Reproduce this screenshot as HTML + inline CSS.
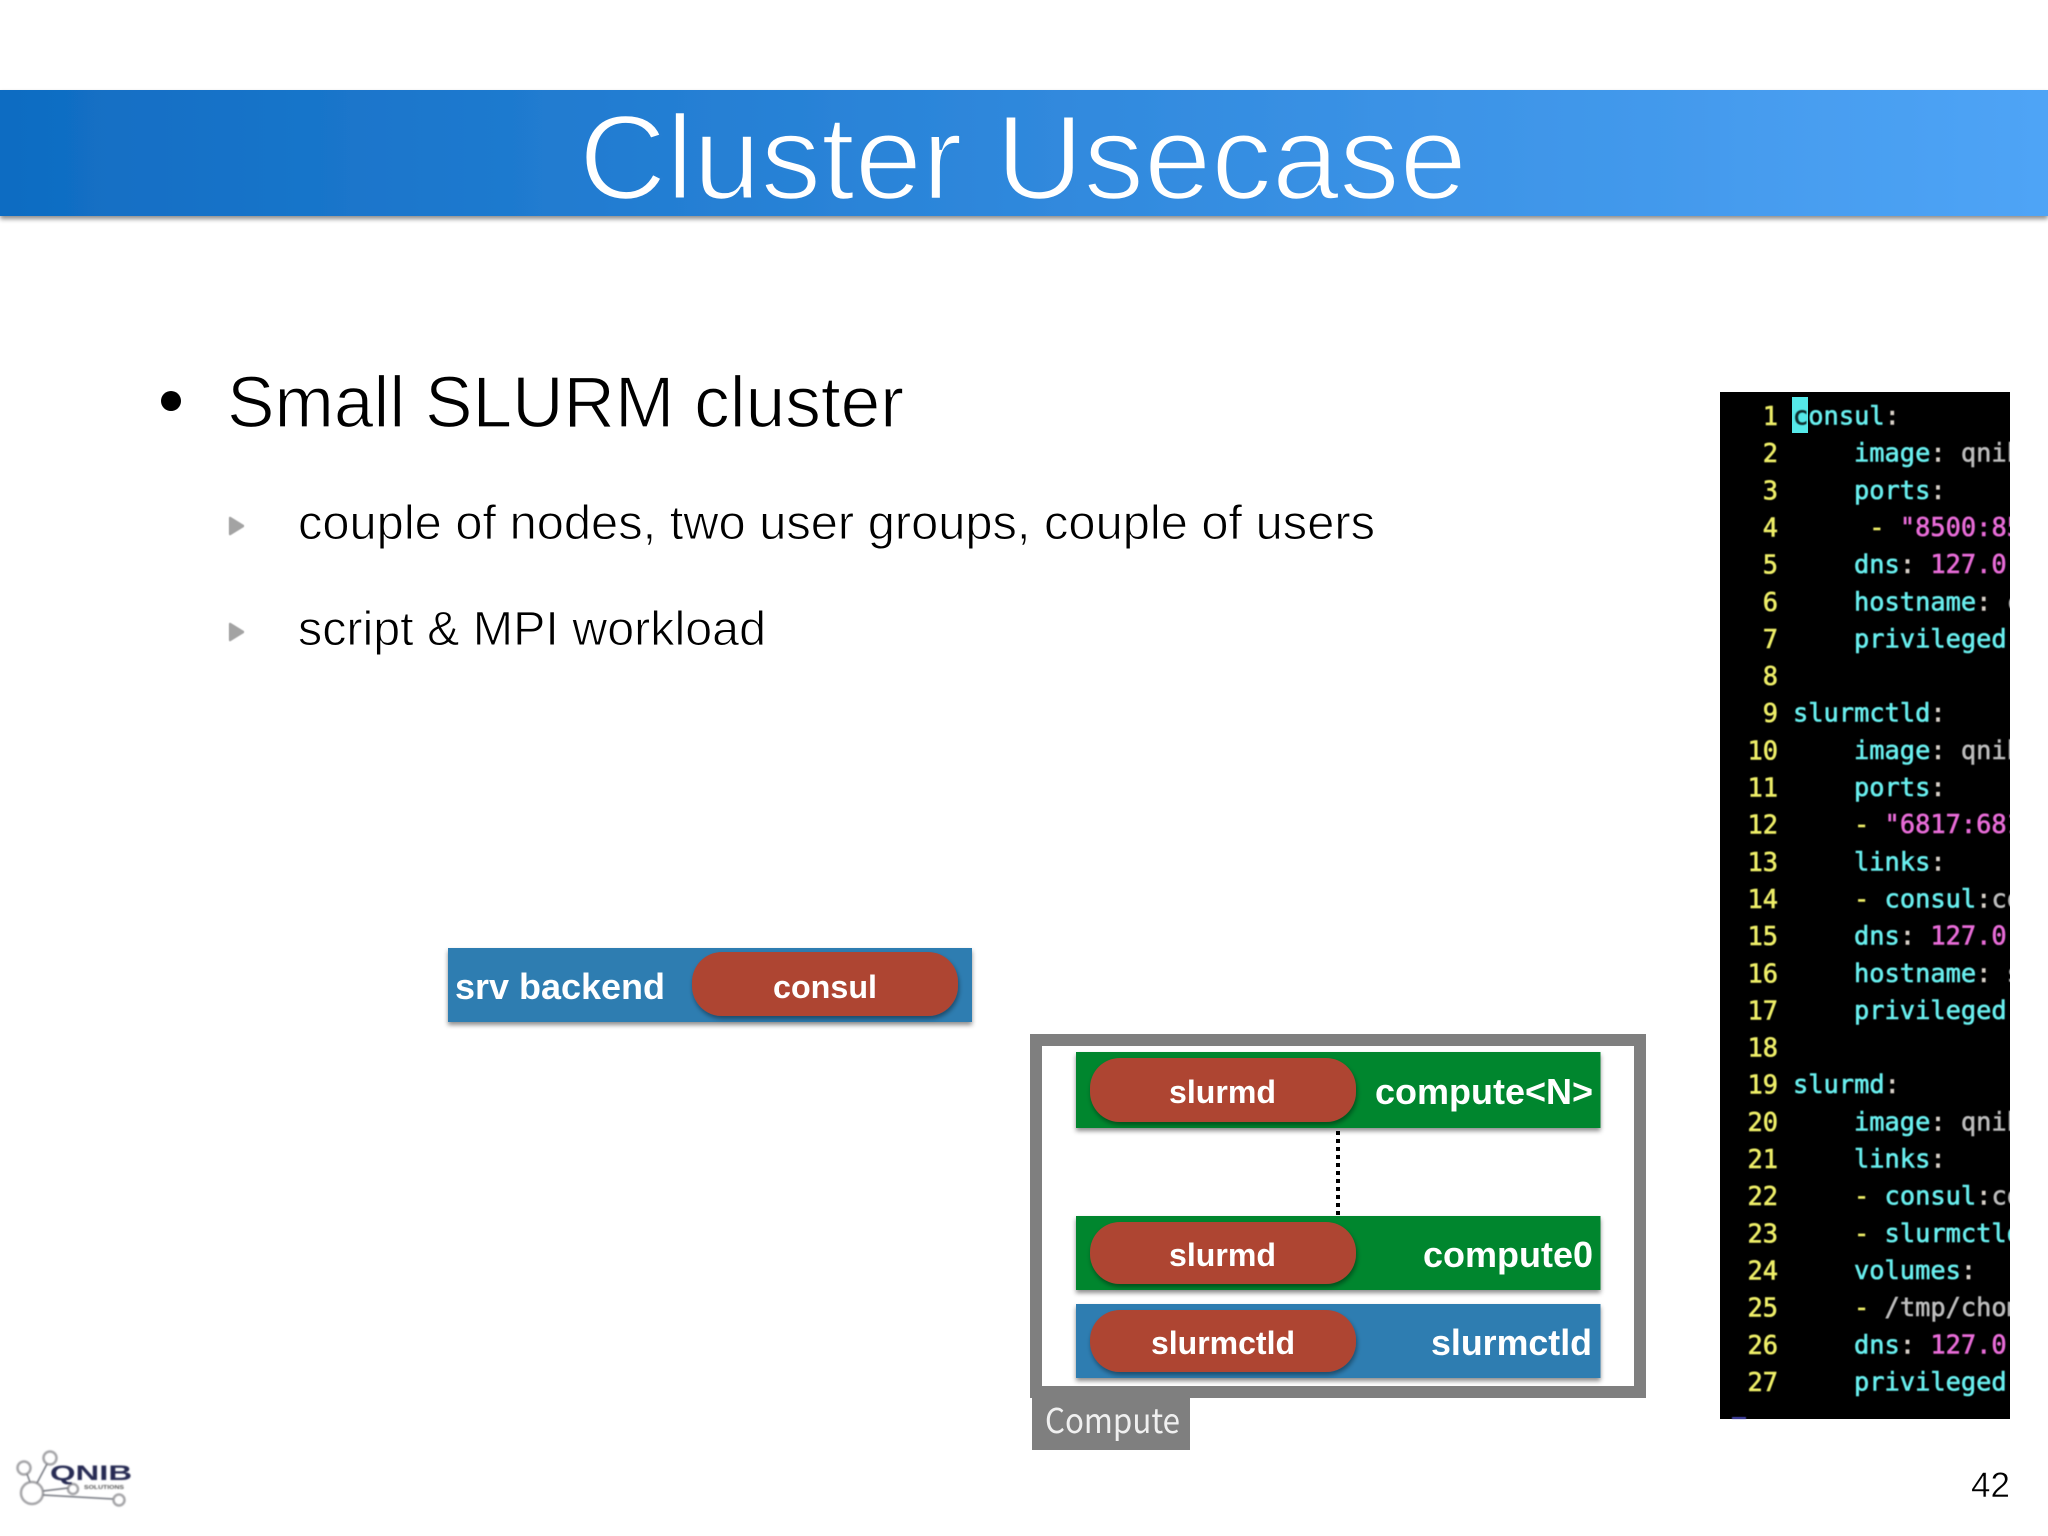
<!DOCTYPE html>
<html><head><meta charset="utf-8"><style>
html,body{margin:0;padding:0;background:#fff;width:2048px;height:1536px;overflow:hidden}
svg{display:block}
text{font-family:"Liberation Sans",sans-serif}
.b{font-weight:bold;fill:#fff}
.c text{font-family:"DejaVu Sans Mono","Liberation Mono",monospace;font-size:25.36px;white-space:pre;fill:#68eeee;stroke:#68eeee;stroke-width:.6}
.c.n text{fill:#eeee68;stroke:#eeee68}
.p{fill:#d8d0c8;stroke:#d8d0c8}.g{fill:#bcbcbc;stroke:#bcbcbc}.m{fill:#e86cd8;stroke:#e86cd8}.d{fill:#eeee68;stroke:#eeee68}
.k{fill:#0a2a2a;stroke:#0a2a2a}
</style></head><body>
<svg xmlns="http://www.w3.org/2000/svg" width="2048" height="1536" viewBox="0 0 2048 1536">
<defs>
<linearGradient id="hg" gradientUnits="userSpaceOnUse" x1="0" y1="0" x2="2048" y2="0"><stop offset="0" stop-color="#0f6cc2"/><stop offset="1" stop-color="#4fa4f6"/></linearGradient>
<filter id="s" x="-5%" y="-30%" width="110%" height="170%"><feDropShadow dx="0" dy="3" stdDeviation="2.5" flood-color="#000" flood-opacity=".45"/></filter>
<filter id="s2" x="-5%" y="-20%" width="110%" height="150%"><feDropShadow dx="1" dy="3" stdDeviation="2.5" flood-color="#000" flood-opacity=".4"/></filter>
<filter id="bl"><feGaussianBlur stdDeviation=".45"/></filter>
<filter id="bl2"><feGaussianBlur stdDeviation=".7"/></filter>
<clipPath id="cp"><rect x="1720" y="392" width="290" height="1027"/></clipPath>
</defs>

<rect x="0" y="90" width="2048" height="126" fill="url(#hg)" filter="url(#s)"/>
<text x="579" y="199" font-size="120" fill="#fff" stroke="url(#hg)" stroke-width="2.6" textLength="888" lengthAdjust="spacingAndGlyphs">Cluster Usecase</text>

<circle cx="171" cy="401" r="10" fill="#000"/>
<text x="227" y="427" font-size="72" fill="#000" stroke="#fff" stroke-width="1.3" textLength="677" lengthAdjust="spacingAndGlyphs">Small SLURM cluster</text>
<polygon points="230,518 243,526 230,534" fill="#a3a3a3" stroke="#a3a3a3" stroke-width="2.5" stroke-linejoin="round" filter="url(#bl)"/>
<text x="298" y="539" font-size="48" fill="#000" stroke="#fff" stroke-width=".9" textLength="1077" lengthAdjust="spacingAndGlyphs">couple of nodes, two user groups, couple of users</text>
<polygon points="230,624 243,632 230,640" fill="#a3a3a3" stroke="#a3a3a3" stroke-width="2.5" stroke-linejoin="round" filter="url(#bl)"/>
<text x="298" y="645" font-size="48" fill="#000" stroke="#fff" stroke-width=".9" textLength="468" lengthAdjust="spacingAndGlyphs">script &amp; MPI workload</text>

<!-- srv backend -->
<rect x="448" y="948" width="524" height="74" fill="#2e7db1" filter="url(#s)"/>
<rect x="692" y="952" width="266" height="64" rx="30" fill="#ae4431" filter="url(#s2)"/>
<text class="b" x="455" y="999" font-size="36" textLength="210" lengthAdjust="spacingAndGlyphs">srv backend</text>
<text class="b" x="773" y="998" font-size="32" textLength="104" lengthAdjust="spacingAndGlyphs">consul</text>

<!-- compute frame -->
<rect x="1036" y="1040" width="604" height="352" fill="#fff" stroke="#7f7f7f" stroke-width="12"/>
<rect x="1032" y="1398" width="158" height="52" fill="#7f7f7f"/>
<text x="1045" y="1433" font-size="34" fill="#f0f0f0" style="font-family:'Noto Sans CJK JP','Liberation Sans',sans-serif" textLength="135" lengthAdjust="spacingAndGlyphs">Compute</text>

<rect x="1076" y="1052" width="524.5" height="76" fill="#02862f" filter="url(#s)"/>
<rect x="1090" y="1058" width="266" height="64" rx="30" fill="#ae4431" filter="url(#s2)"/>
<text class="b" x="1169" y="1103" font-size="32" textLength="107" lengthAdjust="spacingAndGlyphs">slurmd</text>
<text class="b" x="1375" y="1104" font-size="36" textLength="218" lengthAdjust="spacingAndGlyphs">compute&lt;N&gt;</text>

<line x1="1338" y1="1131" x2="1338" y2="1216" stroke="#000" stroke-width="4" stroke-dasharray="4 4"/>

<rect x="1076" y="1216" width="524.5" height="74" fill="#02862f" filter="url(#s)"/>
<rect x="1090" y="1222" width="266" height="62" rx="30" fill="#ae4431" filter="url(#s2)"/>
<text class="b" x="1169" y="1266" font-size="32" textLength="107" lengthAdjust="spacingAndGlyphs">slurmd</text>
<text class="b" x="1423" y="1267" font-size="36" textLength="170" lengthAdjust="spacingAndGlyphs">compute0</text>

<rect x="1076" y="1304" width="524.5" height="74" fill="#2e7db1" filter="url(#s)"/>
<rect x="1090" y="1310" width="266" height="62" rx="30" fill="#ae4431" filter="url(#s2)"/>
<text class="b" x="1151" y="1354" font-size="32" textLength="144" lengthAdjust="spacingAndGlyphs">slurmctld</text>
<text class="b" x="1431" y="1355" font-size="36" textLength="161" lengthAdjust="spacingAndGlyphs">slurmctld</text>

<!-- code panel -->
<rect x="1720" y="392" width="290" height="1027" fill="#000"/>
<rect x="1732" y="1417" width="14" height="2" fill="#4a4ab8" filter="url(#bl)"/>
<rect x="1792" y="397" width="16" height="36" fill="#55e8e8"/>
<g clip-path="url(#cp)" filter="url(#bl)">
<g class="c n">
<text x="1778" y="425" text-anchor="end">1</text>
<text x="1778" y="462.15" text-anchor="end">2</text>
<text x="1778" y="499.3" text-anchor="end">3</text>
<text x="1778" y="536.45" text-anchor="end">4</text>
<text x="1778" y="573.6" text-anchor="end">5</text>
<text x="1778" y="610.75" text-anchor="end">6</text>
<text x="1778" y="647.9" text-anchor="end">7</text>
<text x="1778" y="685.05" text-anchor="end">8</text>
<text x="1778" y="722.2" text-anchor="end">9</text>
<text x="1778" y="759.35" text-anchor="end">10</text>
<text x="1778" y="796.5" text-anchor="end">11</text>
<text x="1778" y="833.65" text-anchor="end">12</text>
<text x="1778" y="870.8" text-anchor="end">13</text>
<text x="1778" y="907.95" text-anchor="end">14</text>
<text x="1778" y="945.1" text-anchor="end">15</text>
<text x="1778" y="982.25" text-anchor="end">16</text>
<text x="1778" y="1019.4" text-anchor="end">17</text>
<text x="1778" y="1056.55" text-anchor="end">18</text>
<text x="1778" y="1093.7" text-anchor="end">19</text>
<text x="1778" y="1130.85" text-anchor="end">20</text>
<text x="1778" y="1168" text-anchor="end">21</text>
<text x="1778" y="1205.15" text-anchor="end">22</text>
<text x="1778" y="1242.3" text-anchor="end">23</text>
<text x="1778" y="1279.45" text-anchor="end">24</text>
<text x="1778" y="1316.6" text-anchor="end">25</text>
<text x="1778" y="1353.75" text-anchor="end">26</text>
<text x="1778" y="1390.9" text-anchor="end">27</text>
</g>
<g class="c">
<text x="1793" y="424.5"><tspan class="k">c</tspan>onsul<tspan class="p">:</tspan></text>
<text x="1854" y="461.65">image<tspan class="p">:</tspan><tspan class="g"> qnib/consul</tspan></text>
<text x="1854" y="498.8">ports<tspan class="p">:</tspan></text>
<text x="1869.3" y="535.95"><tspan class="d">-</tspan><tspan class="m"> "8500:8500"</tspan></text>
<text x="1854" y="573.1">dns<tspan class="p">:</tspan><tspan class="m"> 127.0.0.1</tspan></text>
<text x="1854" y="610.25">hostname<tspan class="p">:</tspan><tspan class="g"> consul</tspan></text>
<text x="1854" y="647.4">privileged<tspan class="p">:</tspan><tspan class="g"> true</tspan></text>
<text x="1793" y="721.7">slurmctld<tspan class="p">:</tspan></text>
<text x="1854" y="758.85">image<tspan class="p">:</tspan><tspan class="g"> qnib/slurmctld</tspan></text>
<text x="1854" y="796">ports<tspan class="p">:</tspan></text>
<text x="1854" y="833.15"><tspan class="d">-</tspan><tspan class="m"> "6817:6817"</tspan></text>
<text x="1854" y="870.3">links<tspan class="p">:</tspan></text>
<text x="1854" y="907.45"><tspan class="d">- </tspan>consul<tspan class="p">:</tspan><tspan class="g">consul</tspan></text>
<text x="1854" y="944.6">dns<tspan class="p">:</tspan><tspan class="m"> 127.0.0.1</tspan></text>
<text x="1854" y="981.75">hostname<tspan class="p">:</tspan><tspan class="g"> slurmctld</tspan></text>
<text x="1854" y="1018.9">privileged<tspan class="p">:</tspan><tspan class="g"> true</tspan></text>
<text x="1793" y="1093.2">slurmd<tspan class="p">:</tspan></text>
<text x="1854" y="1130.35">image<tspan class="p">:</tspan><tspan class="g"> qnib/slurmd</tspan></text>
<text x="1854" y="1167.5">links<tspan class="p">:</tspan></text>
<text x="1854" y="1204.65"><tspan class="d">- </tspan>consul<tspan class="p">:</tspan><tspan class="g">consul</tspan></text>
<text x="1854" y="1241.8"><tspan class="d">- </tspan>slurmctld<tspan class="p">:</tspan><tspan class="g">slurmctld</tspan></text>
<text x="1854" y="1278.95">volumes<tspan class="p">:</tspan></text>
<text x="1854" y="1316.1"><tspan class="d">-</tspan><tspan class="g"> /tmp/chome:/chome</tspan></text>
<text x="1854" y="1353.25">dns<tspan class="p">:</tspan><tspan class="m"> 127.0.0.1</tspan></text>
<text x="1854" y="1390.4">privileged<tspan class="p">:</tspan><tspan class="g"> true</tspan></text>
</g>
</g>

<text x="1971" y="1497" font-size="35" fill="#000" stroke="#fff" stroke-width=".5" textLength="39" lengthAdjust="spacingAndGlyphs">42</text>

<!-- logo -->
<g filter="url(#bl2)">
<g fill="none" stroke="#a5a5a8" stroke-width="2.5">
<circle cx="24" cy="1468" r="6.5"/>
<circle cx="50" cy="1458" r="6.5"/>
<circle cx="32" cy="1493" r="11"/>
<circle cx="73" cy="1489" r="5"/>
<circle cx="119" cy="1500" r="5.5"/>
</g>
<g stroke="#70737c" stroke-width="1.5" fill="none">
<line x1="27" y1="1474" x2="30" y2="1482"/>
<line x1="47" y1="1464" x2="37" y2="1483"/>
<line x1="43" y1="1491" x2="68" y2="1488"/>
<line x1="43" y1="1495" x2="113" y2="1499"/>
</g>
<text x="50" y="1480" font-size="21" font-weight="bold" fill="#252a52" textLength="82" lengthAdjust="spacingAndGlyphs">QNIB</text>
<text x="84" y="1489" font-size="5" font-weight="bold" fill="#555" textLength="40" lengthAdjust="spacingAndGlyphs">SOLUTIONS</text>
</g>
</svg>
</body></html>
